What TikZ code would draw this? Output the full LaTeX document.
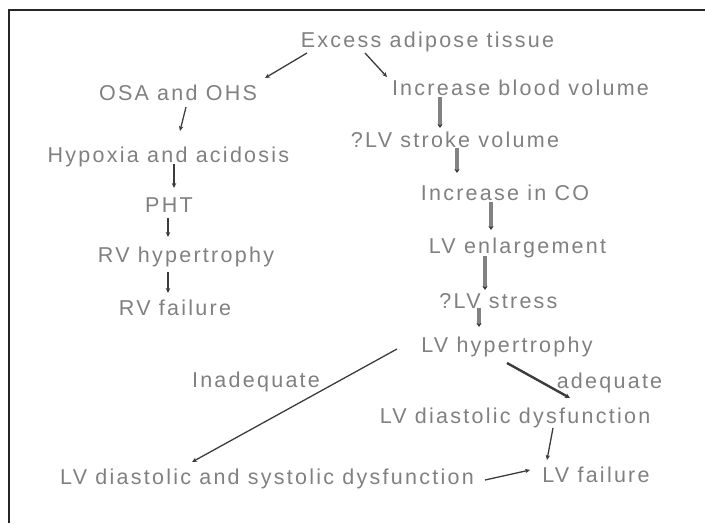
\documentclass[tikz,border=0pt]{standalone}
\usepackage{fontspec}
\setmainfont{Liberation Sans}[LetterSpace=10.5]
\usetikzlibrary{arrows.meta}
\definecolor{txt}{RGB}{128,128,128}
\definecolor{ln}{RGB}{60,60,60}
\definecolor{thk}{RGB}{130,130,130}
\begin{document}
\begin{tikzpicture}[x=1pt,y=-1pt,
  lbl/.style={anchor=base,inner sep=0pt,text=txt,font=\fontsize{21.5}{25}\selectfont},
  thin/.style={draw=ln,line width=1.3pt,-{Stealth[length=5pt,width=4.5pt]}},
  thick/.style={draw=thk,line width=3.6pt,-{Stealth[length=4pt,width=5pt,color=ln]}},
  dark/.style={draw=ln,line width=2.4pt,-{Stealth[length=5pt,width=5pt]}}]
\useasboundingbox (0,0) rectangle (705,525);
\draw[line width=2pt,black!85] (705,10) -- (9,10) -- (9,523);
% nodes
\node[lbl] (ex) at (427.5,47) {Excess adipose tissue};
\node[lbl] (osa) at (178,100) {OSA and OHS};
\node[lbl] (hyp) at (168.5,162) {Hypoxia and acidosis};
\node[lbl] (pht) at (169,212) {PHT};
\node[lbl] (rvh) at (186,262) {RV hypertrophy};
\node[lbl] (rvf) at (175,315) {RV failure};
\node[lbl] (inad) at (256,387) {Inadequate};
\node[lbl] (lvds) at (267,484) {LV diastolic and systolic dysfunction};
\node[lbl] (ibv) at (520.5,95) {Increase blood volume};
\node[lbl] (sv) at (455,147) {?LV stroke volume};
\node[lbl] (co) at (505,200) {Increase in CO};
\node[lbl] (lve) at (517.5,253) {LV enlargement};
\node[lbl] (st) at (498.5,308) {?LV stress};
\node[lbl] (lvh) at (507,352) {LV hypertrophy};
\node[lbl] (adq) at (609.5,388) {adequate};
\node[lbl] (ldd) at (515,423) {LV diastolic dysfunction};
\node[lbl] (lvf) at (596,482) {LV failure};
% connectors
\draw[thin] ([xshift=-120.5pt,yshift=-6pt]ex.base) -- ([xshift=87pt,yshift=22pt]osa.base);
\draw[thin] ([xshift=-62.5pt,yshift=-6pt]ex.base) -- ([xshift=-133.5pt,yshift=18pt]ibv.base);
\draw[thin] ([xshift=8pt,yshift=-7pt]osa.base) -- ([xshift=11.5pt,yshift=31pt]hyp.base);
\draw[thin] ([xshift=5.5pt,yshift=-2pt]hyp.base) -- ([xshift=5pt,yshift=24pt]pht.base);
\draw[thin] ([xshift=-1pt,yshift=-6pt]pht.base) -- ([xshift=-18pt,yshift=25pt]rvh.base);
\draw[thin] ([xshift=-18pt,yshift=-10pt]rvh.base) -- ([xshift=-7pt,yshift=22pt]rvf.base);
\draw[thick] ([xshift=-80.5pt,yshift=-2pt]ibv.base) -- ([xshift=-15pt,yshift=19pt]sv.base);
\draw[thick] ([xshift=2pt,yshift=-1pt]sv.base) -- ([xshift=-48pt,yshift=27pt]co.base);
\draw[thick] ([xshift=-14pt,yshift=-2pt]co.base) -- ([xshift=-26.5pt,yshift=23pt]lve.base);
\draw[thick] ([xshift=-32.5pt,yshift=-3pt]lve.base) -- ([xshift=-13.5pt,yshift=18pt]st.base);
\draw[thick] ([xshift=-19.5pt,yshift=0pt]st.base) -- ([xshift=-28pt,yshift=25pt]lvh.base);
\draw[thin] ([xshift=-110pt,yshift=3pt]lvh.base) -- ([xshift=-75pt,yshift=22pt]lvds.base);
\draw[dark] ([xshift=0pt,yshift=-11pt]lvh.base) -- ([xshift=55pt,yshift=25pt]ldd.base);
\draw[thin] ([xshift=38pt,yshift=-5pt]ldd.base) -- ([xshift=-49pt,yshift=22pt]lvf.base);
\draw[thin] ([xshift=218pt,yshift=4pt]lvds.base) -- ([xshift=-66pt,yshift=12pt]lvf.base);
\end{tikzpicture}
\end{document}
